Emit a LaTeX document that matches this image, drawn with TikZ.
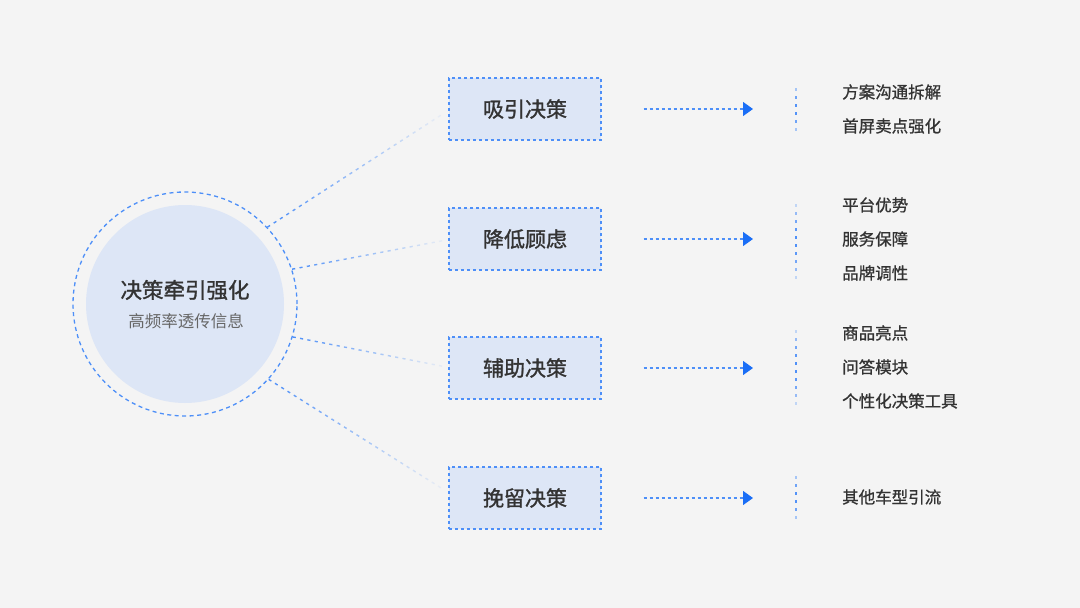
\documentclass[tikz,border=0pt]{standalone}
\usepackage{fontspec}
\setmainfont{Noto Sans CJK SC}
\newfontfamily\cjkmed{Noto Sans CJK SC}[FakeBold=0.9]
\newfontfamily\cjkbold{Noto Sans CJK SC}[FakeBold=1.3]
\usetikzlibrary{calc,arrows.meta}
\definecolor{bg}{HTML}{F4F4F4}
\definecolor{lb}{HTML}{DDE6F6}
\definecolor{dashblue}{HTML}{4D8FF8}
\definecolor{arrowblue}{HTML}{1A6EF6}
\definecolor{txt}{HTML}{333333}
\definecolor{subtxt}{HTML}{666666}
% fading dashed connector from #1 to #2 with #3 dashes
\newcommand{\fadeconn}[3]{%
  \foreach \k in {0,...,#3}{%
    \pgfmathsetmacro\ta{\k/(#3+1)}%
    \pgfmathsetmacro\tb{\ta+0.42/(#3+1)}%
    \pgfmathtruncatemacro\pc{100*(1-0.95*\ta)}%
    \draw[connline, dashblue!\pc!bg] ($(#1)!\ta!(#2)$) -- ($(#1)!\tb!(#2)$);
  }}
% fading vertical dots from #1 downwards, #2 dots
\newcommand{\fadedots}[2]{%
  \foreach \k in {0,...,#2}{%
    \pgfmathsetmacro\yy{\k*8}%
    \pgfmathtruncatemacro\pc{100*(sin(180*\k/#2))^0.9}%
    \draw[dotline, dashblue!\pc!bg] ($(#1)+(0,\yy)$) -- ($(#1)+(0,\yy+3)$);
  }}
\tikzset{
  connline/.style={line width=1.4pt},
  dotline/.style={line width=1.8pt},
  box/.style={draw=dashblue, fill=lb, line width=1.3pt, dash pattern=on 3pt off 3pt,
    minimum width=152pt, minimum height=62pt, inner sep=0pt,
    font=\cjkbold\fontsize{21}{24}\selectfont, text=txt},
  item/.style={anchor=west, inner sep=0pt, font=\cjkmed\fontsize{16.5}{20}\selectfont, text=txt},
  flow/.style={draw=dashblue, line width=1.3pt, dash pattern=on 3pt off 3pt,
    -{Triangle[length=10pt,width=14pt,color=arrowblue]}},
}
\begin{document}
\begin{tikzpicture}[x=1pt,y=-1pt]
\fill[bg] (0,0) rectangle (1080,608);
\useasboundingbox (0,0) rectangle (1080,608);

% hub
\node[circle, minimum size=224pt, inner sep=0pt, draw=dashblue, line width=1.3pt,
  dash pattern=on 4pt off 3.5pt] (hub) at (185,304) {};
\node[circle, minimum size=198pt, inner sep=0pt, fill=lb] (core) at (185,304) {};
\node[inner sep=0pt, font=\cjkbold\fontsize{21.5}{24}\selectfont, text=txt] (title) at (185,290) {决策牵引强化};
\node[inner sep=0pt, font=\fontsize{16.5}{20}\selectfont, text=subtxt] (sub) at (186,321) {高频率透传信息};

% boxes
\node[box] (b1) at (525,109) {吸引决策};
\node[box] (b2) at (525,239) {降低顾虑};
\node[box] (b3) at (525,368) {辅助决策};
\node[box] (b4) at (525,498) {挽留决策};

% connectors hub -> boxes
\coordinate (c1) at ($(b1.west)+(-4,4)$);
\coordinate (c2) at ($(b2.west)+(-2,1)$);
\coordinate (c3) at ($(b3.west)+(-2,-1)$);
\coordinate (c4) at ($(b4.west)+(-4,-8)$);
\fadeconn{hub.43}{c1}{27}
\fadeconn{hub.18}{c2}{20}
\fadeconn{hub.-17}{c3}{20}
\fadeconn{hub.-42}{c4}{27}

% arrows
\foreach \i/\y in {1/109,2/239,3/368,4/498}{
  \coordinate (as\i) at ($(b\i.east)+(42,0)$);
  \coordinate (ae\i) at (753,\y);
  \draw[flow] (as\i) -- (ae\i);
}

% vertical dotted separators
\coordinate (v1) at (796,80);
\coordinate (v2) at (796,196);
\coordinate (v3) at (796,322);
\coordinate (v4) at (796,468);
\fadedots{v1}{7}
\fadedots{v2}{11}
\fadedots{v3}{11}
\fadedots{v4}{7}

% items
\node[item] (i11) at (842,92) {方案沟通拆解};
\node[item] (i12) at (842,126) {首屏卖点强化};
\node[item] (i21) at (842,205) {平台优势};
\node[item] (i22) at (842,239) {服务保障};
\node[item] (i23) at (842,273) {品牌调性};
\node[item] (i31) at (842,333) {商品亮点};
\node[item] (i32) at (842,367) {问答模块};
\node[item] (i33) at (842,401) {个性化决策工具};
\node[item] (i41) at (842,497) {其他车型引流};
\end{tikzpicture}
\end{document}
